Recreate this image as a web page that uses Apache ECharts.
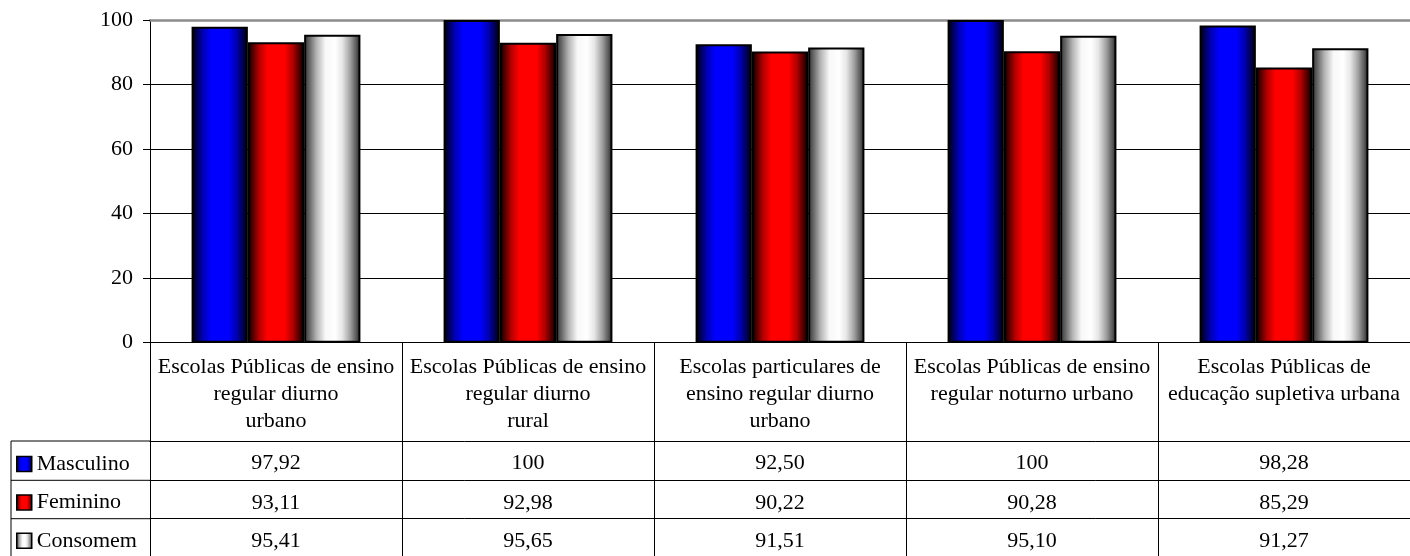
<!DOCTYPE html>
<html>
<head>
<meta charset="utf-8">
<script src="https://cdn.jsdelivr.net/npm/echarts@6/dist/echarts.min.js"></script>
<style>
html,body{margin:0;padding:0;background:#fff;}
#c{width:1410px;height:556px;}
</style>
</head>
<body>
<div id="c"></div>
<script>
const categories = [
  'Escolas Públicas de ensino\nregular diurno\nurbano',
  'Escolas Públicas de ensino\nregular diurno\nrural',
  'Escolas particulares de\nensino regular diurno\nurbano',
  'Escolas Públicas de ensino\nregular noturno urbano',
  'Escolas Públicas de\neducação supletiva urbana'
];
const seriesNames = ['Masculino', 'Feminino', 'Consomem'];
const masculino = [97.92, 100, 92.50, 100, 98.28];
const feminino = [93.11, 92.98, 90.22, 90.28, 85.29];
const consomem = [95.41, 95.65, 91.51, 95.10, 91.27];
const yMin = 0, yMax = 100, yStep = 20;

const rows = [masculino, feminino, consomem];
const FONT = "'Liberation Serif', 'Times New Roman', serif";

function fmt(v) {
  return Number.isInteger(v) ? String(v) : v.toFixed(2).replace('.', ',');
}
function grad(stops) {
  return {
    type: 'linear', x: 0, y: 0, x2: 1, y2: 0,
    colorStops: stops.map(s => ({ offset: s[0], color: s[1] }))
  };
}
const fills = [
  grad([[0,'#000000'],[0.08,'#00004a'],[0.2,'#0000b4'],[0.35,'#0000ff'],[0.65,'#0000ff'],[0.8,'#0000b0'],[0.93,'#000040'],[1,'#000000']]),
  grad([[0,'#000000'],[0.08,'#4a0000'],[0.2,'#b40000'],[0.35,'#ff0000'],[0.65,'#ff0000'],[0.8,'#b00000'],[0.93,'#400000'],[1,'#000000']]),
  grad([[0,'#303030'],[0.1,'#6a6a6a'],[0.22,'#b4b4b4'],[0.38,'#f8f8f8'],[0.55,'#ffffff'],[0.68,'#e6e6e6'],[0.82,'#a0a0a0'],[0.94,'#505050'],[1,'#202020']])
];

const gridBottomY = 342.7;
const rowTops = [441, 480.3, 518.7];

const xAxes = [{
  type: 'category', data: categories, position: 'bottom', gridIndex: 0,
  axisLine: { show: true, lineStyle: { color: '#000', width: 1 } },
  axisTick: { show: true, interval: 0, length: rowTops[0] - gridBottomY, lineStyle: { color: '#000' } },
  axisLabel: { interval: 0, margin: 11.5, fontFamily: FONT, fontSize: 22, lineHeight: 26.7, color: '#000', align: 'center' }
}];
rows.forEach((r, i) => {
  xAxes.push({
    type: 'category', data: categories, position: 'bottom', gridIndex: 0,
    offset: rowTops[i] - gridBottomY,
    axisLine: { show: true, lineStyle: { color: '#000', width: 1 } },
    axisTick: { show: true, interval: 0, length: 40, lineStyle: { color: '#000' } },
    axisLabel: { interval: 0, margin: 10.5, fontFamily: FONT, fontSize: 22, lineHeight: 24, color: '#000',
      formatter: (v, idx) => fmt(r[idx]) }
  });
});
xAxes.push({
  type: 'category', data: categories, position: 'top', gridIndex: 0,
  axisLine: { show: true, lineStyle: { color: '#8c8c8c', width: 2.5 } },
  axisTick: { show: false }, axisLabel: { show: false }
});

const legendLines = [];
rowTops.forEach(y => legendLines.push({ type: 'line', shape: { x1: 11, y1: y, x2: 150, y2: y }, style: { stroke: '#000', lineWidth: 1 } }));
legendLines.push({ type: 'line', shape: { x1: 11, y1: rowTops[0], x2: 11, y2: 560 }, style: { stroke: '#000', lineWidth: 1 } });

const chart = echarts.init(document.getElementById('c'), null, { renderer: 'canvas' });
chart.setOption({
  animation: false,
  backgroundColor: '#fff',
  grid: { left: 150, top: 20, width: 1262.5, bottom: 556 - gridBottomY, containLabel: false },
  legend: {
    orient: 'vertical', left: 16, top: 452, padding: 0, itemGap: 14.4,
    itemWidth: 15, itemHeight: 15, icon: 'rect',
    itemStyle: { borderColor: '#000', borderWidth: 1.5 },
    textStyle: { fontFamily: FONT, fontSize: 22, lineHeight: 24, color: '#000' },
    data: seriesNames
  },
  xAxis: xAxes,
  yAxis: {
    type: 'value', min: yMin, max: yMax, interval: yStep,
    axisLine: { show: true, lineStyle: { color: '#000', width: 1 } },
    axisTick: { show: true, length: 7, lineStyle: { color: '#000' } },
    axisLabel: { margin: 17, fontFamily: FONT, fontSize: 22, color: '#000' },
    splitLine: { show: true, lineStyle: { color: ['#000', '#000', '#000', '#000', '#000', '#8c8c8c'], width: 1 } }
  },
  graphic: legendLines,
  series: rows.map((r, i) => ({
    name: seriesNames[i], type: 'bar', xAxisIndex: 0, yAxisIndex: 0,
    data: r, barGap: '0%', barCategoryGap: '33%',
    itemStyle: { color: fills[i], borderColor: '#000', borderWidth: 2 }
  }))
});
</script>
</body>
</html>
